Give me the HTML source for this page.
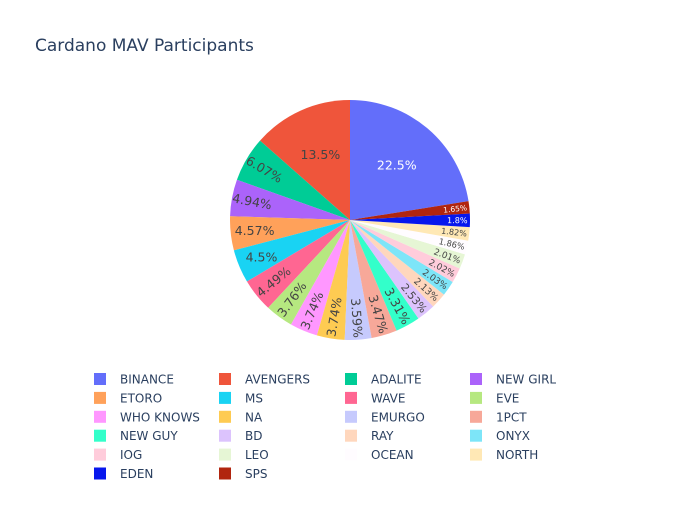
<!DOCTYPE html>
<html><head><meta charset="utf-8"><style>
body{margin:0;background:#fff;font-family:"Liberation Sans","DejaVu Sans",sans-serif}
svg text{font-family:"DejaVu Sans","Liberation Sans",sans-serif}
</style></head><body>
<svg id="chart" width="700" height="500" xmlns="http://www.w3.org/2000/svg">
<rect width="700" height="500" fill="#fff"/>
<text x="35" y="51" font-size="17" fill="#2a3f5f">Cardano MAV Participants</text>
<g id="slices"></g><g id="labels"></g><g id="legend"></g>
</svg>
<script>
const labels=["BINANCE","AVENGERS","ADALITE","NEW GIRL","ETORO","MS","WAVE","EVE","WHO KNOWS","NA","EMURGO","1PCT","NEW GUY","BD","RAY","ONYX","IOG","LEO","OCEAN","NORTH","EDEN","SPS"];
const values=[22.5,13.5,6.07,4.94,4.57,4.5,4.49,3.76,3.74,3.74,3.59,3.47,3.31,2.53,2.13,2.03,2.02,2.01,1.86,1.82,1.8,1.65];
const colors=["#636efa","#ef553b","#00cc96","#ab63fa","#ffa15a","#19d3f3","#ff6692","#b6e880","#ff97ff","#fecb52","#c6cafd","#f7a899","#33ffca","#dcc3fd","#ffd7bd","#7de5f8","#ffccdb","#e6f6d5","#fffcff","#ffe8b5","#0717ed","#b1250f"];
const NS="http://www.w3.org/2000/svg";
const cx=350,cy=220,R=120;
const total=values.reduce((a,b)=>a+b,0);
const gS=document.getElementById('slices'),gL=document.getElementById('labels'),gG=document.getElementById('legend');
function pt(th,r){const a=th*Math.PI/180;return [cx+r*Math.sin(a),cy-r*Math.cos(a)];}
function norm(r){while(r>90)r-=180;while(r<-90)r+=180;return r;}
let start=360*values[0]/total;
values.forEach((v,i)=>{
  const sw=360*v/total,a0=start,a1=start-sw;start=a1;
  const p0=pt(a0,R),p1=pt(a1,R);
  const p=document.createElementNS(NS,'path');
  p.setAttribute('d',`M${cx},${cy}L${p0[0]},${p0[1]}A${R},${R} 0 ${sw>180?1:0} 0 ${p1[0]},${p1[1]}Z`);
  p.setAttribute('fill',colors[i]);
  
  
  gS.appendChild(p);
  const mid=(a0+a1)/2, txt=v+'%';
  const t=document.createElementNS(NS,'text');
  let fs,x,y,rot=0;
  const dark=(i===0||i===20||i===21);
  if(v>=10){fs=12.5;[x,y]=pt(mid,R*0.6);}
  else if(v>=4.5&&v<4.6){fs=12.5;[x,y]=pt(mid,R*0.8);}
  else if(v>=4.9){fs=12.5;[x,y]=pt(mid,R*0.83);rot=norm(mid+90);}
  else{fs=Math.min(12.5,v*3.6+1.6);const w=txt.length*fs*0.6;[x,y]=pt(mid,R-w/2-3);rot=norm(mid-90);}
  t.setAttribute('x',x);t.setAttribute('y',y+fs*0.35);t.setAttribute('font-size',fs);
  t.setAttribute('text-anchor','middle');t.setAttribute('fill',dark?'#fff':'#444');
  if(rot)t.setAttribute('transform',`rotate(${rot} ${x} ${y})`);
  t.textContent=txt;
  
  
  gL.appendChild(t);
  const col=i%4,row=Math.floor(i/4);
  const lx=[94,219,345,470][col],ly=379+row*18.9;
  const g=document.createElementNS(NS,'g');
  
  
  const r=document.createElementNS(NS,'rect');
  r.setAttribute('x',lx);r.setAttribute('y',ly-6);r.setAttribute('width',12);r.setAttribute('height',12);r.setAttribute('fill',colors[i]);
  const lt=document.createElementNS(NS,'text');
  lt.setAttribute('x',lx+26);lt.setAttribute('y',ly+4.5);lt.setAttribute('font-size',12);lt.setAttribute('fill','#2a3f5f');
  lt.textContent=labels[i];
  g.appendChild(r);g.appendChild(lt);gG.appendChild(g);
});
</script>
</body></html>
